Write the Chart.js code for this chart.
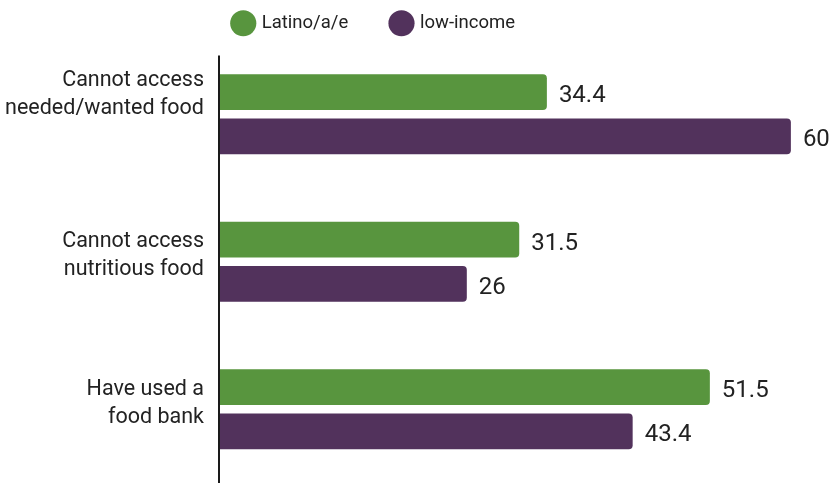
<!DOCTYPE html>
<html>
<head>
<meta charset="utf-8">
<script src="https://cdn.jsdelivr.net/npm/chart.js@4.4.1/dist/chart.umd.min.js"></script>
<style>
  html, body { margin: 0; padding: 0; background: #fff; overflow: hidden; }
  #wrap { position: relative; width: 832px; height: 483px; }
</style>
</head>
<body>
<div id="wrap"><canvas id="c"></canvas></div>
<script>
const categories = [
  ['Cannot access', 'needed/wanted food', ''],
  ['Cannot access', 'nutritious food'],
  ['Have used a', 'food bank']
];
const seriesNames = ['Latino/a/e', 'low-income'];
const latinoValues = [34.4, 31.5, 51.5];
const lowIncomeValues = [60, 26, 43.4];

const GREEN = '#58953e';
const PURPLE = '#52325c';
const TEXT = '#222222';

const valueLabels = {
  id: 'valueLabels',
  afterDatasetsDraw(chart) {
    const ctx = chart.ctx;
    ctx.save();
    ctx.font = '24px Roboto';
    ctx.fillStyle = TEXT;
    ctx.textAlign = 'left';
    ctx.textBaseline = 'middle';
    chart.data.datasets.forEach((ds, di) => {
      const meta = chart.getDatasetMeta(di);
      meta.data.forEach((el, i) => {
        ctx.fillText(String(ds.data[i]), el.x + 12, el.y + 4);
      });
    });
    ctx.restore();
  }
};

const axisLine = {
  id: 'axisLine',
  afterDatasetsDraw(chart) {
    const ctx = chart.ctx;
    const ca = chart.chartArea;
    const x = chart.scales.y.right;
    ctx.save();
    ctx.strokeStyle = '#1a1a1a';
    ctx.lineWidth = 2;
    ctx.beginPath();
    ctx.moveTo(x, ca.top + 15);
    ctx.lineTo(x, chart.height);
    ctx.stroke();
    ctx.restore();
  }
};

const legendShift = {
  id: 'legendShift',
  afterLayout(chart) {
    const l = chart.legend;
    if (!l) return;
    const dx = 190, dy = 2;
    l.left += dx; l.right += dx;
    l.top += dy; l.bottom += dy;
  }
};

new Chart(document.getElementById('c'), {
  type: 'bar',
  data: {
    labels: categories,
    datasets: [
      { label: seriesNames[0], data: latinoValues, backgroundColor: GREEN, borderRadius: 4, borderSkipped: 'start',
        categoryPercentage: 0.6, barPercentage: 0.81 },
      { label: seriesNames[1], data: lowIncomeValues, backgroundColor: PURPLE, borderRadius: 4, borderSkipped: 'start',
        categoryPercentage: 0.6, barPercentage: 0.81 }
    ]
  },
  options: {
    indexAxis: 'y',
    responsive: true,
    maintainAspectRatio: false,
    animation: false,
    layout: { padding: { top: -32, bottom: -5, left: 0, right: 3 } },
    plugins: {
      tooltip: { enabled: false },
      legend: {
        position: 'top',
        align: 'start',
        labels: {
          usePointStyle: true,
          pointStyle: 'circle',
          font: { family: 'Roboto', size: 18.5 },
          color: TEXT,
          padding: 44
        }
      }
    },
    scales: {
      x: {
        display: false,
        min: 0,
        max: 64
      },
      y: {
        grid: { display: false, drawTicks: false },
        border: { display: false },
        ticks: {
          font: { family: 'Roboto', size: 21.5, lineHeight: 1.3 },
          color: TEXT,
          padding: 15,
          labelOffset: -6
        },
        afterFit(scale) {
          scale.width = 219;
          scale.paddingTop = 0;
          scale.paddingBottom = 0;
        }
      }
    }
  },
  plugins: [valueLabels, axisLine, legendShift]
});
</script>
</body>
</html>
